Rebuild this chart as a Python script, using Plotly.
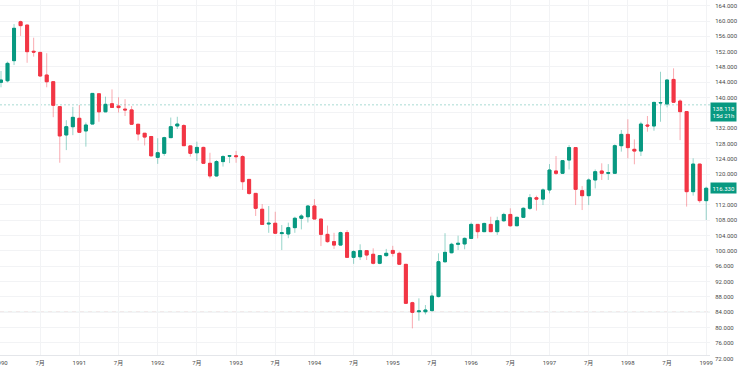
import plotly.graph_objects as go

# Monthly USD/JPY candles, Jan 1990 .. Jan 1999 (index 0 = Jan 1990)
open_ = [144.0, 144.4, 149.65, 159.8, 158.95, 152.1, 151.8, 145.9, 144.15, 137.65, 130.25, 132.4,
         134.6, 131.3, 133.1, 141.0, 136.3, 138.4, 137.8, 137.0, 136.8, 133.05, 130.7, 129.85,
         124.4, 125.45, 129.55, 132.6, 132.7, 127.4, 125.6, 127.0, 122.85, 119.55, 123.3, 124.7,
         124.8, 124.6, 118.65, 115.0, 110.85, 107.0, 107.2, 104.5, 104.4, 106.05, 108.5, 108.9,
         111.7, 108.3, 104.3, 102.4, 101.5, 104.75, 98.3, 98.45, 100.05, 99.1, 96.75, 98.75,
         100.1, 99.35, 96.47, 86.45, 84.1, 84.1, 84.4, 88.05, 97.15, 99.5, 101.7, 101.8,
         103.25, 106.9, 105.0, 106.9, 105.0, 107.85, 109.5, 106.55, 108.75, 111.1, 113.85, 113.5,
         115.9, 120.85, 120.25, 123.7, 126.95, 115.7, 114.4, 118.5, 120.85, 120.25, 120.25, 127.45,
         130.4, 126.5, 126.05, 132.85, 132.6, 138.6, 138.35, 144.75, 139.1, 136.35, 115.45, 122.65,
         113.1]
high = [146.95, 149.4, 159.2, 160.1, 159.0, 155.65, 152.0, 151.6, 144.3, 137.8, 134.1, 137.6,
        138.05, 133.5, 141.2, 141.0, 140.25, 142.15, 140.1, 139.6, 137.8, 133.1, 130.7, 130.0,
        129.4, 129.8, 134.8, 135.0, 133.1, 127.5, 128.5, 127.2, 125.6, 123.7, 125.0, 125.0,
        126.1, 125.0, 118.7, 115.0, 112.2, 111.7, 110.2, 106.75, 107.35, 108.9, 109.6, 111.95,
        113.5, 108.3, 106.6, 104.7, 105.0, 105.4, 100.2, 101.7, 100.1, 100.65, 98.9, 100.5,
        101.3, 99.8, 96.5, 86.7, 87.6, 85.85, 89.1, 99.35, 104.6, 102.1, 103.95, 103.5,
        107.35, 106.95, 107.35, 108.9, 108.9, 109.95, 111.1, 108.9, 111.35, 114.8, 114.4, 116.3,
        122.65, 124.75, 123.7, 127.6, 127.0, 116.9, 118.9, 121.25, 122.85, 122.65, 127.8, 131.55,
        134.35, 129.1, 133.7, 135.2, 138.95, 146.75, 144.75, 147.65, 139.55, 136.4, 124.15, 122.7,
        116.75]
low = [142.7, 144.0, 148.5, 156.1, 149.1, 150.7, 145.5, 142.7, 134.9, 123.0, 126.3, 130.2,
       130.9, 127.2, 133.1, 133.7, 136.2, 137.4, 136.1, 135.2, 132.9, 128.8, 127.5, 124.6,
       122.7, 124.8, 129.5, 131.8, 127.4, 124.6, 123.5, 122.8, 118.9, 119.4, 122.0, 122.9,
       123.0, 115.9, 114.6, 109.1, 106.75, 104.7, 104.4, 100.2, 103.3, 104.7, 105.6, 107.4,
       108.3, 101.25, 102.1, 100.5, 101.4, 98.3, 96.6, 97.6, 97.6, 96.45, 96.5, 98.45,
       98.5, 96.3, 86.1, 79.75, 81.75, 83.4, 84.1, 87.85, 96.9, 99.35, 100.2, 100.4,
       103.2, 103.25, 104.9, 104.9, 104.15, 107.6, 106.3, 106.45, 108.6, 110.65, 110.5, 111.95,
       115.0, 119.8, 120.1, 121.25, 111.95, 110.65, 111.95, 116.3, 118.5, 118.5, 120.1, 125.9,
       124.15, 122.6, 124.75, 131.1, 131.35, 133.7, 137.45, 138.75, 128.9, 111.55, 114.4, 112.55,
       108.05]
close = [144.6, 148.95, 158.1, 158.8, 152.0, 151.9, 145.65, 144.15, 138.0, 130.0, 132.4, 134.85,
         130.95, 132.85, 141.1, 136.3, 138.25, 137.45, 137.4, 136.8, 133.05, 130.5, 129.7, 124.8,
         125.6, 129.55, 132.4, 133.1, 127.45, 125.45, 127.0, 122.85, 119.55, 123.3, 124.6, 124.85,
         124.6, 118.05, 115.0, 111.1, 106.9, 107.2, 104.6, 104.7, 106.05, 108.5, 109.1, 111.7,
         108.3, 104.3, 102.4, 101.5, 104.75, 98.3, 99.8, 100.05, 98.9, 96.75, 98.75, 99.35,
         99.35, 96.5, 86.3, 83.95, 84.3, 84.55, 88.2, 97.15, 99.6, 101.7, 101.95, 103.25,
         106.9, 105.0, 107.15, 105.0, 107.85, 109.5, 106.55, 108.75, 111.1, 113.85, 113.5, 115.9,
         121.1, 120.25, 123.55, 126.95, 116.05, 114.4, 118.5, 120.65, 120.25, 120.4, 127.45, 130.4,
         126.95, 126.05, 133.1, 132.6, 138.75, 138.7, 144.6, 138.8, 136.35, 115.45, 122.65, 113.1,
         116.33]

year_labels = ["1990", "1991", "1992", "1993", "1994", "1995", "1996", "1997", "1998", "1999"]
mid_label = "7月"
price_ticks = [72 + 4 * k for k in range(24)]  # 72 .. 164

last_price = 116.33
marker_price = 138.118
marker_sub = "15d 21h"
level_line = 83.95

GREEN = "#089981"
RED = "#F23645"
GREEN_WICK = "rgba(8,153,129,0.42)"
RED_WICK = "rgba(242,54,69,0.42)"
TXT = "#4a4a4a"

x = list(range(len(open_)))
body_hi = [max(o, c) for o, c in zip(open_, close)]
body_lo = [min(o, c) for o, c in zip(open_, close)]

tickvals, ticktext = [], []
for k, yl in enumerate(year_labels):
    tickvals.append(12 * k)
    ticktext.append(yl)
    if k < len(year_labels) - 1:
        tickvals.append(12 * k + 6)
        ticktext.append(mid_label)

# price labels hidden behind the two price boxes (as in the reference)
def price_label(v):
    if abs(v - last_price) < 2.5 or (0 < marker_price - v < 4):
        return ""
    return f"{v:.3f}"

FONT = "Roboto, 'Noto Sans CJK SC', sans-serif"

fig = go.Figure()
# wicks (lighter)
fig.add_trace(go.Candlestick(
    x=x, open=open_, high=high, low=low, close=close,
    increasing=dict(line=dict(color=GREEN_WICK, width=1), fillcolor=GREEN),
    decreasing=dict(line=dict(color=RED_WICK, width=1), fillcolor=RED),
    whiskerwidth=0, showlegend=False, hoverinfo="skip"))
# bodies (solid)
fig.add_trace(go.Candlestick(
    x=x, open=open_, high=body_hi, low=body_lo, close=close,
    increasing=dict(line=dict(color=GREEN, width=1), fillcolor=GREEN),
    decreasing=dict(line=dict(color=RED, width=1), fillcolor=RED),
    whiskerwidth=0, showlegend=False))

y_lo, y_hi = 72.80, 165.49
x_lo, x_hi = -0.153, 108.58

# level lines
fig.add_shape(type="line", xref="paper", x0=0, x1=1, yref="y", y0=marker_price, y1=marker_price,
              line=dict(color="rgba(8,153,129,0.35)", width=1, dash="2px,2px"), layer="below")
fig.add_shape(type="line", xref="paper", x0=0, x1=1, yref="y", y0=level_line, y1=level_line,
              line=dict(color="rgba(8,153,129,0.25)", width=1), layer="below")
fig.add_shape(type="line", xref="paper", x0=0, x1=1, yref="y", y0=level_line, y1=level_line,
              line=dict(color="rgba(242,54,69,0.35)", width=1, dash="4px,4px"), layer="below")

fig.add_annotation(xref="paper", x=1, xanchor="left", yref="y", y=last_price, yanchor="middle",
                   text=f"{last_price:.3f}", showarrow=False, bgcolor=GREEN,
                   font=dict(family=FONT, size=6, color="white"), borderpad=1.5)
fig.add_annotation(xref="paper", x=1, xanchor="left", yref="y", y=marker_price, yanchor="top",
                   text=f"{marker_price:.3f}<br>{marker_sub}", showarrow=False, bgcolor=GREEN,
                   font=dict(family=FONT, size=6, color="white"), borderpad=1.5, yshift=3, align="center")
fig.add_annotation(xref="paper", x=1, xanchor="left", xshift=3, yref="paper",
                   y=(price_ticks[0] - y_lo) / (y_hi - y_lo), yanchor="middle",
                   text=f"{price_ticks[0]:.3f}", showarrow=False,
                   font=dict(family=FONT, size=6, color=TXT))

fig.update_layout(
    width=739, height=367,
    margin=dict(l=0, r=29, t=0, b=12, autoexpand=False),
    paper_bgcolor="white", plot_bgcolor="white",
    boxgap=0.35,
    xaxis=dict(range=[x_lo, x_hi], rangeslider=dict(visible=False),
               tickvals=tickvals, ticktext=ticktext, ticks="", ticklabeloverflow="allow",
               ticklabelstandoff=2,
               tickfont=dict(family=FONT, size=6, color=TXT),
               showgrid=True, gridcolor="#f2f3f5", gridwidth=1,
               showline=True, linecolor="#e4e6ea", linewidth=1, zeroline=False),
    yaxis=dict(range=[y_lo, y_hi], side="right", tickvals=price_ticks,
               ticktext=[price_label(v) for v in price_ticks], ticks="outside", ticklen=3,
               tickcolor="rgba(0,0,0,0)",
               tickfont=dict(family=FONT, size=6, color=TXT),
               showgrid=True, gridcolor="#f2f3f5", gridwidth=1, zeroline=False, showline=False),
    showlegend=False,
)

fig.write_html("out.html", config={"displayModeBar": False},
               post_script="document.body.style.margin='0';")
